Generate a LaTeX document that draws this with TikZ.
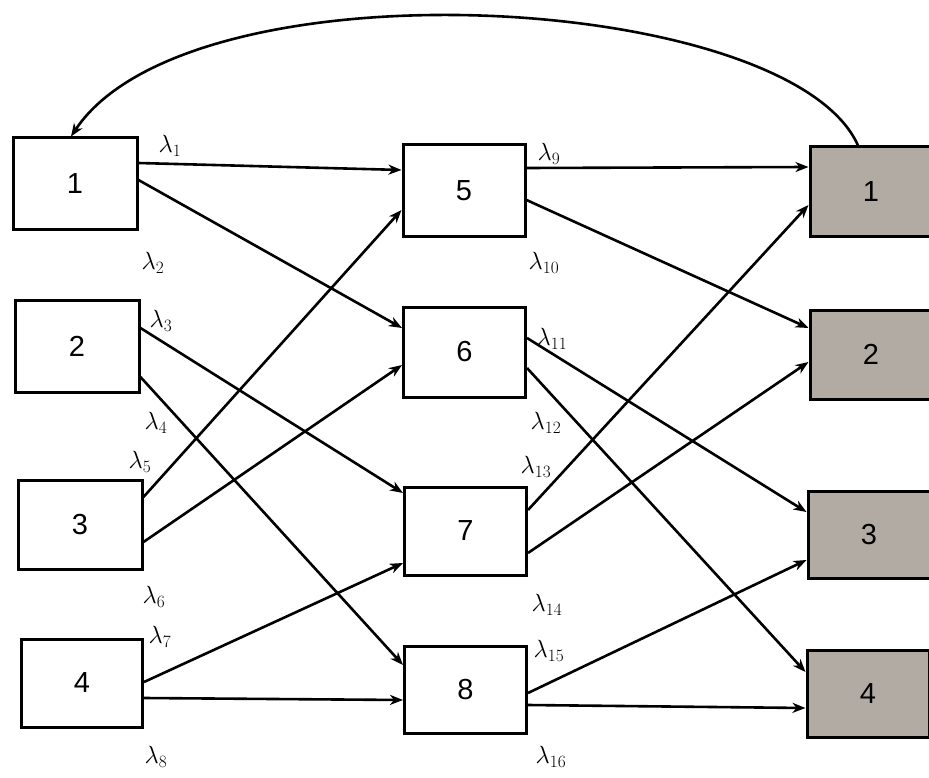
\documentclass[tikz,border=0pt]{standalone}
\usepackage{fontspec}
\setmainfont{Liberation Sans}
\usetikzlibrary{arrows.meta}
\definecolor{boxgrey}{RGB}{178,171,163}
\tikzset{
  stage/.style={draw, line width=3pt, minimum width=122pt, minimum height=90pt,
    inner sep=0pt, font=\fontsize{29}{32}\selectfont},
  sink/.style={stage, fill=boxgrey},
  arr/.style={line width=2.6pt, -{Stealth[length=13pt,width=10pt,inset=4pt]}},
  rate/.style={font=\fontsize{26}{28}\selectfont, inner sep=0pt}
}
\begin{document}
\begin{tikzpicture}[x=1pt,y=-1pt]
\useasboundingbox (0,0) rectangle (929,778);

% source stages
\node[stage, minimum width=124pt, minimum height=92pt] (L1) at (75,184) {1};
\node[stage, minimum width=124pt, minimum height=92pt] (L2) at (77,346) {2};
\node[stage, minimum width=124pt, minimum height=89pt] (L3) at (80,525) {3};
\node[stage, minimum width=121pt, minimum height=88pt] (L4) at (82,683) {4};

% intermediate stages
\node[stage, minimum height=92pt] (M5) at (464,191) {5};
\node[stage] (M6) at (464.5,352) {6};
\node[stage, minimum height=88pt] (M7) at (465.5,531) {7};
\node[stage, minimum height=87pt] (M8) at (465.5,689.5) {8};

% destination stages
\node[sink] (R1) at (871,192) {1};
\node[sink, minimum height=89pt] (R2) at (871,354.5) {2};
\node[sink, minimum height=87pt] (R3) at (869,534.5) {3};
\node[sink, minimum height=87pt] (R4) at (868,693.5) {4};

% first layer of transitions
\draw[arr] ([yshift=21pt]L1.east) -- ([yshift=21pt]M5.west);
\draw[arr] ([yshift=4pt]L1.east) -- ([yshift=24pt]M6.west);
\draw[arr] ([yshift=18pt]L2.east) -- ([yshift=38pt]M7.west);
\draw[arr] ([yshift=-31pt]L2.east) -- ([yshift=24.5pt]M8.west);
\draw[arr] ([yshift=28pt]L3.east) -- ([yshift=-19pt]M5.west);
\draw[arr] ([yshift=-17pt]L3.east) -- ([yshift=-13pt]M6.west);
\draw[arr] ([yshift=1pt]L4.east) -- ([yshift=-32pt]M7.west);
\draw[arr] ([yshift=-15pt]L4.east) -- ([yshift=-10.5pt]M8.west);

% second layer of transitions
\draw[arr] ([yshift=23pt]M5.east) -- ([yshift=25pt]R1.west);
\draw[arr] ([yshift=-9pt]M5.east) -- ([yshift=26.5pt]R2.west);
\draw[arr] ([yshift=14pt]M6.east) -- ([yshift=22.5pt]R3.west);
\draw[arr] ([yshift=-16pt]M6.east) -- ([yshift=21.5pt]R4.west);
\draw[arr] ([yshift=21pt]M7.east) -- ([yshift=-13pt]R1.west);
\draw[arr] ([yshift=-22pt]M7.east) -- ([yshift=-7.5pt]R2.west);
\draw[arr] ([yshift=-3.5pt]M8.east) -- ([yshift=-25.5pt]R3.west);
\draw[arr] ([yshift=-15.5pt]M8.east) -- ([yshift=-14.5pt]R4.west);

% feedback
\draw[arr] ([xshift=-13pt]R1.north) .. controls (790,-8) and (190,-42) .. ([xshift=-4pt]L1.north);

% rates
\node[rate] (r1) at (170,146) {$\lambda_1$};
\node[rate] (r2) at (153,263) {$\lambda_2$};
\node[rate] (r3) at (161,321) {$\lambda_3$};
\node[rate] (r4) at (156,423) {$\lambda_4$};
\node[rate] (r5) at (140,462) {$\lambda_5$};
\node[rate] (r6) at (154,597) {$\lambda_6$};
\node[rate] (r7) at (160,637) {$\lambda_7$};
\node[rate] (r8) at (156,757) {$\lambda_8$};
\node[rate] (r9) at (549,154) {$\lambda_9$};
\node[rate] (r10) at (544,263) {$\lambda_{10}$};
\node[rate] (r11) at (552,339) {$\lambda_{11}$};
\node[rate] (r12) at (546,423) {$\lambda_{12}$};
\node[rate] (r13) at (536,467) {$\lambda_{13}$};
\node[rate] (r14) at (547,605) {$\lambda_{14}$};
\node[rate] (r15) at (549,651) {$\lambda_{15}$};
\node[rate] (r16) at (551,757) {$\lambda_{16}$};
\end{tikzpicture}
\end{document}
